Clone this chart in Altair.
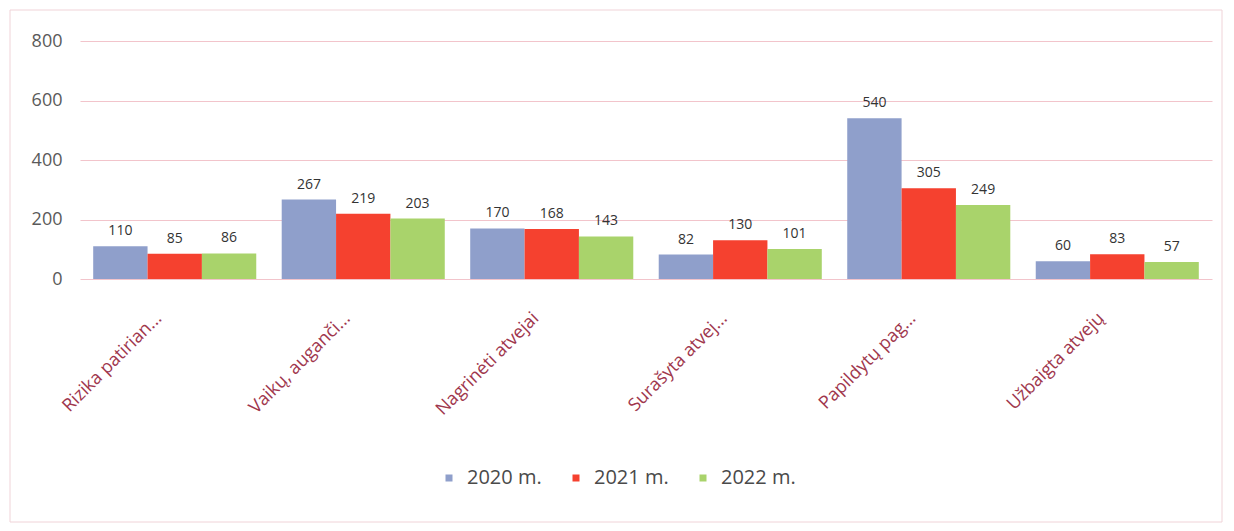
import altair as alt
import pandas as pd

categories = ["Rizika patirian...", "Vaikų, auganči...", "Nagrinėti atvejai",
              "Surašyta atvej...", "Papildytų pag...", "Užbaigta atvejų"]
years = ["2020 m.", "2021 m.", "2022 m."]
v2020 = [110, 267, 170, 82, 540, 60]
v2021 = [85, 219, 168, 130, 305, 83]
v2022 = [86, 203, 143, 101, 249, 57]
colors = ["#8f9fcb", "#f5412f", "#a9d36b"]

rows = []
for yr, vals in zip(years, [v2020, v2021, v2022]):
    for c, v in zip(categories, vals):
        rows.append({"cat": c, "year": yr, "value": v})
df = pd.DataFrame(rows)

FONT = "Open Sans"

x = alt.X("cat:N", sort=categories, title=None,
          scale=alt.Scale(paddingInner=0.135, paddingOuter=0.07),
          axis=alt.Axis(labelAngle=-45, labelColor="#a0374d", labelFontSize=18,
                        labelFont=FONT, ticks=False, domain=False,
                        labelPadding=30, labelOffset=-22, labelLimit=300))
y = alt.Y("value:Q", title=None,
          scale=alt.Scale(domain=[0, 800]),
          axis=alt.Axis(values=[0, 200, 400, 600, 800], labelColor="#5a5a5a",
                        labelFontSize=18, labelFont=FONT, ticks=False,
                        domain=False, gridColor="#f2c4cb", gridWidth=1,
                        labelPadding=18))
xo = alt.XOffset("year:N", sort=years, scale=alt.Scale(paddingInner=0))
color = alt.Color("year:N", sort=years,
                  scale=alt.Scale(domain=years, range=colors),
                  legend=alt.Legend(title=None, orient="none", direction="horizontal",
                                    legendX=359, legendY=427, symbolType="square",
                                    symbolSize=49, symbolStrokeWidth=0,
                                    labelFontSize=20, labelFont=FONT,
                                    labelColor="#4a4a4a", columnPadding=24,
                                    labelOffset=8))

bars = alt.Chart(df).mark_bar().encode(x=x, y=y, xOffset=xo, color=color)
text = alt.Chart(df).mark_text(dy=-15, fontSize=14, font=FONT, color="#333333").encode(
    x=x, y=y, xOffset=xo, text="value:Q")

frame = alt.Chart(pd.DataFrame({"f": [0]})).mark_rect(
    fill=None, stroke="#f0d3d8", strokeWidth=1).encode(
    x=alt.value(-70), x2=alt.value(1142), y=alt.value(-31), y2=alt.value(481))

chart = (frame + bars + text).properties(
    width=1132, height=238,
    autosize=alt.AutoSizeParams(type="none"),
    padding={"left": 72, "top": 33, "right": 14, "bottom": 244},
).configure(background="white").configure_view(stroke=None, strokeWidth=0)

chart.save("out.html", embed_options={"renderer": "svg", "actions": False})
